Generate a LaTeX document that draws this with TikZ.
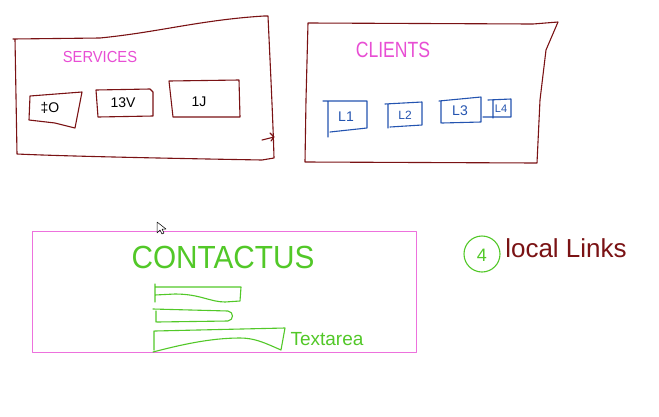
\documentclass[tikz,border=0pt]{standalone}
\usepackage{fontspec}
\setmainfont{Liberation Sans}
\definecolor{maroonink}{RGB}{122,18,20}
\definecolor{pinkink}{RGB}{232,78,212}
\definecolor{blueink}{RGB}{36,84,176}
\definecolor{greenink}{RGB}{82,200,40}
\tikzset{every path/.style={line width=1.1pt, line join=round, line cap=round},
  lbl/.style={inner sep=0pt, font=\fontsize{#1}{#1}\selectfont}}

\begin{document}
\begin{tikzpicture}[x=1pt,y=-1pt]
     \useasboundingbox[fill=white] (0,0) rectangle (659,416);
     % services
     \begin{scope}[maroonink]
      \draw (13,39) -- (100,38) .. controls (160,32) and (200,20) .. (264,16) -- (268,16)
            .. controls (270,60) and (273,120) .. (274,158) -- (262,160)
            .. controls (150,158) and (60,156) .. (17,154) -- (15,39);
      \draw (262,140) -- (274,137) (270,133) -- (274,137) -- (271,141);
      \draw (30,96) -- (82,92) -- (75,128) -- (55,123) -- (29,120) -- cycle;
      \draw (96,90) -- (150,89) -- (153,92) -- (153,116) -- (98,117) -- cycle;
      \draw (169,81) -- (239,80) -- (240,117) -- (173,117) -- cycle;
     \end{scope}
     \node[pinkink, lbl=16, xscale=0.92] (services) at (100,57) {SERVICES};
     \node[lbl=14] (svc1) at (50,108) {‡O};
     \node[lbl=14] (svc2) at (123,103) {13V};
     \node[lbl=14] (svc3) at (199,102) {1J};
     % clients
     \begin{scope}[maroonink]
      \draw (308,23) -- (533,24) -- (558,22) -- (546,50) -- (540,100) -- (537,163)
            -- (305,162) -- (306,100) -- cycle;
     \end{scope}
     \node[pinkink, lbl=22, xscale=0.8] (clients) at (393,50) {CLIENTS};
     \begin{scope}[blueink]
      \draw (323,101) -- (367,101) -- (367,128) -- (330,132) (328,101) -- (328,137);
      \draw (385,104) -- (422,102) -- (422,125) -- (390,127) (388,104) -- (388,128);
      \draw (439,101) -- (481,97) -- (481,122) -- (442,123) (441,101) -- (441,123);
      \draw (488,100) -- (511,99) -- (511,117) -- (483,117) (493,100) -- (493,118);
     \end{scope}
     \node[blueink, lbl=14] (cl1) at (346,117) {L1};
     \node[blueink, lbl=12] (cl2) at (405,115) {L2};
     \node[blueink, lbl=14] (cl3) at (460,111) {L3};
     \node[blueink, lbl=11] (cl4) at (501,109) {L4};
     % contact us
     \draw[pinkink!80, line width=0.9pt] (32,231) rectangle (416,352);
     \node[greenink, lbl=32, xscale=0.93] (contact) at (223,257) {CONTACTUS};
     \begin{scope}[greenink]
      \draw (155,284) -- (155,302) (155,287) -- (241,287) -- (240,301) -- (225,302)
            .. controls (210,302) and (200,294) .. (175,294) -- (155,295);
      \draw (153,309) -- (228,311) .. controls (234,312) and (234,320) .. (228,321)
            -- (157,322) (156,311) -- (156,322);
      \draw (154,331) -- (154,350) (155,331) -- (285,328) -- (281,350)
            .. controls (265,343) and (255,338) .. (240,338)
            .. controls (210,338) and (180,345) .. (153,352);
     \end{scope}
     \node[greenink, lbl=19] (textarea) at (327,339) {Textarea};
     % local links
     \draw[greenink] (482,254) circle (18);
     \node[greenink, lbl=18] (num) at (482,255) {4};
     \node[maroonink, lbl=26] (links) at (566,248) {local Links};
     % pointer
     \draw[black, fill=white, line width=0.5pt] (157,222) -- (157,233) -- (160,230)
            -- (162,234) -- (164,233) -- (162,229) -- (166,229) -- cycle;
\end{tikzpicture}
\end{document}
